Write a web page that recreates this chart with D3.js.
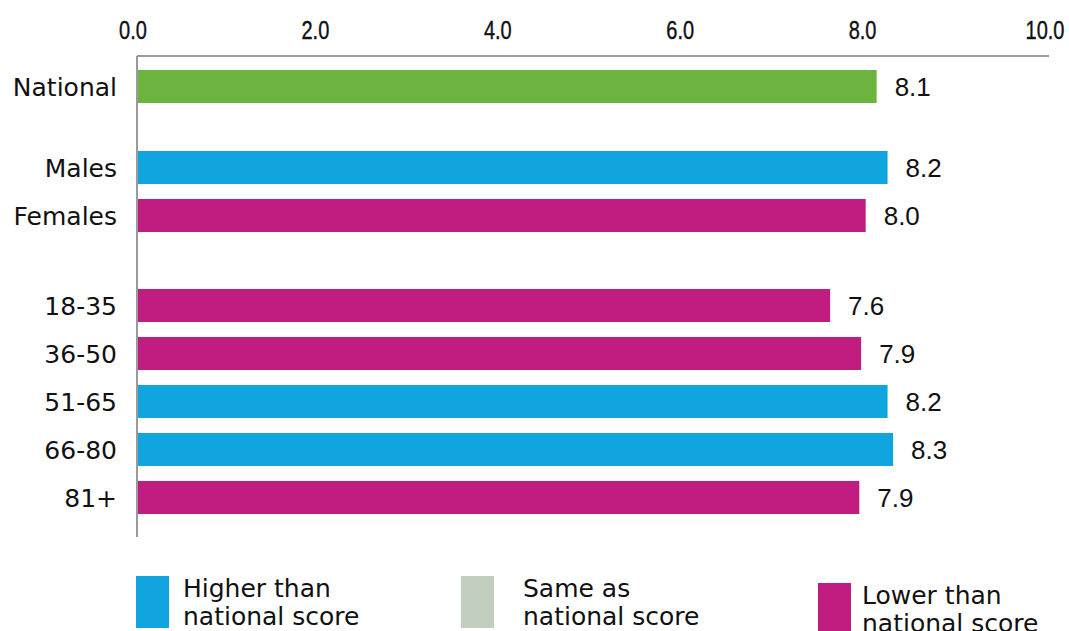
<!DOCTYPE html>
<html>
<head>
<meta charset="utf-8">
<script src="https://cdn.jsdelivr.net/npm/d3@7"></script>
<style>
  html, body { margin: 0; padding: 0; background: #fff; }
  svg { display: block; }
</style>
</head>
<body>
<svg id="chart" width="1069" height="631"></svg>
<script>
// ---- data ----
const categories = ["National", "Males", "Females", "18-35", "36-50", "51-65", "66-80", "81+"];
const groups     = ["national", "sex", "sex", "age", "age", "age", "age", "age"];
const values     = [8.11, 8.23, 7.99, 7.60, 7.94, 8.23, 8.29, 7.92];
const status     = ["national", "higher", "lower", "lower", "lower", "higher", "higher", "lower"];
const tickValues = [0, 2, 4, 6, 8, 10];
const legendKeys   = ["higher", "same", "lower"];
const legendLine1  = ["Higher than", "Same as", "Lower than"];
const legendLine2  = ["national score", "national score", "national score"];

// ---- styles / layout ----
const colors = { national: "#6db33f", higher: "#10a5de", same: "#c3cfbe", lower: "#c11c7f" };
const x0 = 137, x1 = 1049, axisY = 56;
const top0 = 70, rowStep = 48, barH = 33, groupGaps = [33, 42];

const svg = d3.select("#chart");
const x = d3.scaleLinear().domain([0, 10]).range([x0, x1]);

// compute row positions from group layout
const groupOrder = Array.from(new Set(groups));
const yPos = [];
let cur = top0;
categories.forEach((c, i) => {
  if (i > 0 && groups[i] !== groups[i - 1]) {
    cur += groupGaps[groupOrder.indexOf(groups[i]) - 1];
  }
  yPos.push(cur);
  cur += rowStep;
});
const y = d3.scaleOrdinal().domain(categories).range(yPos);

// top axis
const axis = d3.axisTop(x).tickValues(tickValues).tickFormat(d3.format(".1f")).tickSize(0).tickPadding(0);
const gAxis = svg.append("g").attr("transform", `translate(0,${axisY})`).call(axis);
gAxis.select(".domain").attr("stroke", "#9a9a9a").attr("stroke-width", 2).attr("d", `M${x0},0H${x1}`);
gAxis.selectAll("text")
  .attr("y", 39 - axisY)
  .attr("dy", 0)
  .attr("dx", -4.5)
  .attr("fill", "#111")
  .attr("stroke", "#111")
  .attr("stroke-width", 0.4)
  .style("font-family", "'Liberation Sans', Arial, sans-serif")
  .style("font-size", "25px")
  .each(function () {
    const w = this.getComputedTextLength();
    d3.select(this).attr("textLength", w * 0.8).attr("lengthAdjust", "spacingAndGlyphs");
  });

// vertical axis line
svg.append("line")
  .attr("x1", x0).attr("x2", x0).attr("y1", axisY).attr("y2", 537)
  .attr("stroke", "#9a9a9a").attr("stroke-width", 2);

// bars
const rows = categories.map((c, i) => ({ c, v: values[i], s: status[i] }));
svg.append("g").selectAll("rect").data(rows).join("rect")
  .attr("x", x(0) + 1)
  .attr("y", d => y(d.c))
  .attr("width", d => x(d.v) - x(0) - 1)
  .attr("height", barH)
  .attr("fill", d => colors[d.s]);

// value labels
svg.append("g").selectAll("text").data(rows).join("text")
  .attr("x", d => x(d.v) + 18)
  .attr("y", d => y(d.c) + barH / 2 + 9.5)
  .text(d => d3.format(".1f")(d.v))
  .attr("fill", "#111")
  .style("font-family", "'Liberation Sans', Arial, sans-serif")
  .style("font-size", "26px");

// category labels
svg.append("g").selectAll("text").data(rows).join("text")
  .attr("x", 117)
  .attr("y", d => y(d.c) + barH / 2 + 9)
  .attr("text-anchor", "end")
  .text(d => d.c)
  .attr("fill", "#111")
  .style("font-family", "'DejaVu Sans', sans-serif")
  .style("font-size", "25px");

// legend
const legX = [136, 461, 818];
const legY = [576, 576, 583];
const legTextX = [47, 62, 44];
const leg = svg.append("g").selectAll("g").data(legendKeys).join("g")
  .attr("transform", (d, i) => `translate(${legX[i]},${legY[i]})`);
leg.append("rect").attr("width", 33).attr("height", 52).attr("fill", d => colors[d]);
const lt = leg.append("text")
  .attr("fill", "#111")
  .style("font-family", "'DejaVu Sans', sans-serif")
  .style("font-size", "25px");
lt.append("tspan").attr("x", (d, i) => legTextX[i]).attr("y", 21).text((d, i) => legendLine1[i]);
lt.append("tspan").attr("x", (d, i) => legTextX[i]).attr("y", 49).text((d, i) => legendLine2[i]);
</script>
</body>
</html>
